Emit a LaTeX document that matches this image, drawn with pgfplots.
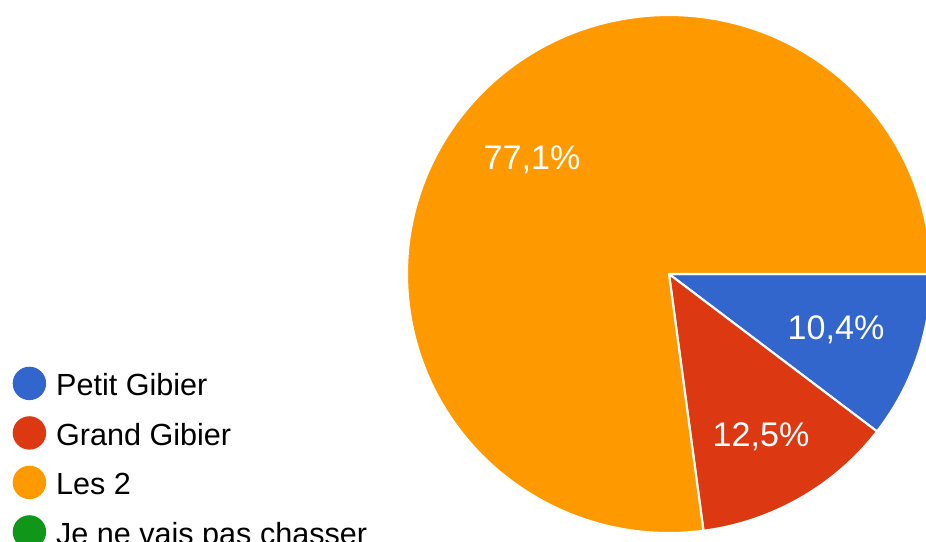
\documentclass[border=0pt]{standalone}
\usepackage{pgfplots}
\pgfplotsset{compat=1.18}
\usepackage{pgfplotstable}
\usepackage{fontspec}
\setmainfont{Liberation Sans}
\definecolor{pblue}{HTML}{3366CC}
\definecolor{pred}{HTML}{DC3912}
\definecolor{porange}{HTML}{FF9900}
\definecolor{pgreen}{HTML}{109618}

% share of each answer, in percent
\pgfplotstableread[col sep=comma]{
label,value
Petit Gibier,10.4
Grand Gibier,12.5
Les 2,77.1
Je ne vais pas chasser,0
}\piedata

\pgfplotstablegetelem{0}{value}\of\piedata \let\vA\pgfplotsretval
\pgfplotstablegetelem{1}{value}\of\piedata \let\vB\pgfplotsretval
\pgfplotstablegetelem{2}{value}\of\piedata \let\vC\pgfplotsretval
% slices run clockwise from 3 o'clock
\pgfmathsetmacro\aA{0}
\pgfmathsetmacro\aB{\aA-3.6*\vA}
\pgfmathsetmacro\aC{\aB-3.6*\vB}
\pgfmathsetmacro\aD{\aC-3.6*\vC}

\newcommand{\slice}[3]{%
  \fill[#1, draw=white, line width=0.6pt, line join=round]
    (axis cs:669,267) -- ++(#2:2.62cm and 2.59cm) arc[start angle=#2, end angle=#3, x radius=2.62cm, y radius=2.59cm] -- cycle;}

\begin{document}
\begin{tikzpicture}
\begin{axis}[
  scale only axis, width=9.26cm, height=5.41cm,
  xmin=0, xmax=926, ymin=0, ymax=541,
  axis lines=none, clip=true,
  legend style={at={(axis cs:12,175)}, anchor=north west, draw=none, fill=none,
    inner sep=0pt, row sep=0.118cm, column sep=0.10cm,
    font=\fontsize{8.7}{10}\selectfont,
    nodes={inner sep=0pt, text height=0.235cm, text depth=0.085cm}},
  legend cell align=left,
]
\slice{pblue}{\aA}{\aB}
\slice{pred}{\aB}{\aC}
\slice{porange}{\aC}{\aD}
\node[white, font=\fontsize{9.7}{11}\selectfont] at (axis cs:532,381) {77,1\%};
\node[white, font=\fontsize{9.7}{11}\selectfont] at (axis cs:836,211) {10,4\%};
\node[white, font=\fontsize{9.7}{11}\selectfont] at (axis cs:761,104) {12,5\%};
\addlegendimage{legend image code/.code={\fill[pblue] (0.16cm,0.05cm) circle (0.16cm);}}
\addlegendentry{Petit Gibier}
\addlegendimage{legend image code/.code={\fill[pred] (0.16cm,0.05cm) circle (0.16cm);}}
\addlegendentry{Grand Gibier}
\addlegendimage{legend image code/.code={\fill[porange] (0.16cm,0.05cm) circle (0.16cm);}}
\addlegendentry{Les 2}
\addlegendimage{legend image code/.code={\fill[pgreen] (0.16cm,0.05cm) circle (0.16cm);}}
\addlegendentry{Je ne vais pas chasser}
\end{axis}
\pgfresetboundingbox
\path (current axis.south west) rectangle (current axis.north east);
\end{tikzpicture}
\end{document}
